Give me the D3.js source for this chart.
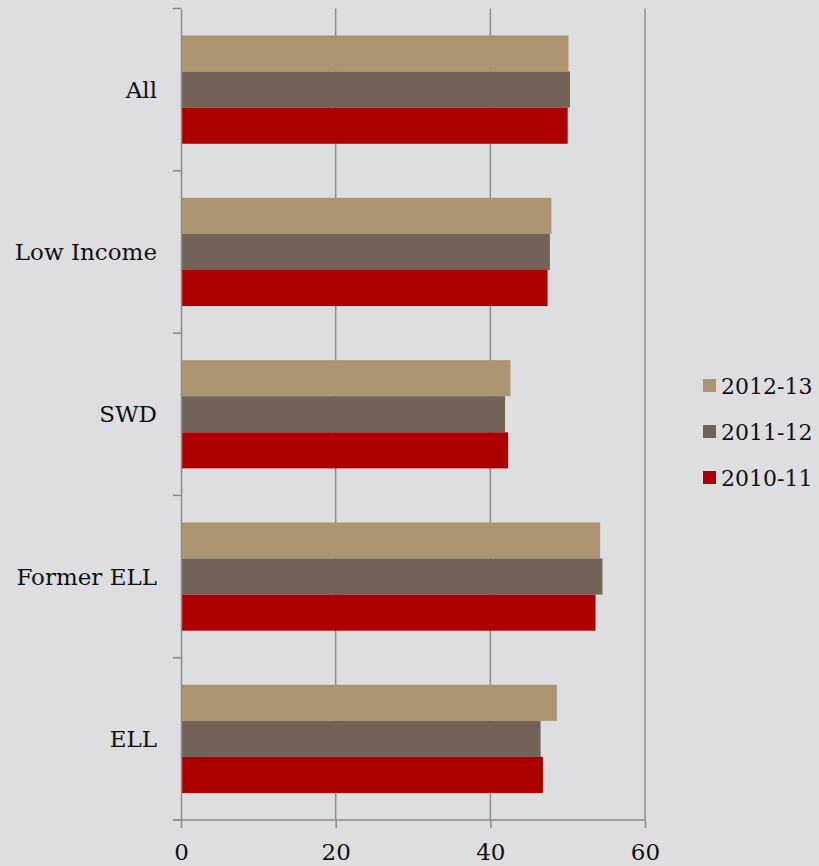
<!DOCTYPE html>
<html>
<head>
<meta charset="utf-8">
<script src="https://cdn.jsdelivr.net/npm/d3@7"></script>
<style>
  html, body { margin: 0; padding: 0; background: #dedee0; }
  svg { display: block; }
  text { font-family: "DejaVu Serif", "Liberation Serif", serif; fill: #111; }
</style>
</head>
<body>
<svg id="chart" width="819" height="866"></svg>
<script>
// Groups shown top to bottom
const categories = ["All", "Low Income", "SWD", "Former ELL", "ELL"];
// School years, drawn top to bottom within each group
const years = ["2012-13", "2011-12", "2010-11"];
const values2012 = [50.1, 47.9, 42.6, 54.2, 48.6];
const values2011 = [50.3, 47.7, 41.9, 54.5, 46.5];
const values2010 = [50.0, 47.4, 42.3, 53.6, 46.8];
const xTicks = [0, 20, 40, 60];
const colors = ["#ac9470", "#726257", "#ad0000"];

const series = [values2012, values2011, values2010];

const svg = d3.select("#chart");
const margin = { left: 181, right: 174, top: 8.5, bottom: 46 };
const W = 819, H = 866;

const x = d3.scaleLinear().domain([0, 60]).range([margin.left, W - margin.right]);
const y = d3.scaleBand().domain(categories).range([margin.top, H - margin.bottom]).paddingInner(0.333).paddingOuter(0.1665);
const yInner = d3.scaleBand().domain(years).range([0, y.bandwidth()]);

// Vertical gridlines
svg.append("g")
  .selectAll("line")
  .data(xTicks.filter(t => t > 0))
  .join("line")
  .attr("x1", d => x(d)).attr("x2", d => x(d))
  .attr("y1", margin.top).attr("y2", H - margin.bottom)
  .attr("stroke", "#8c8c8c").attr("stroke-width", 1.5);

// Bars
const groups = svg.append("g")
  .selectAll("g")
  .data(categories)
  .join("g")
  .attr("transform", d => `translate(0,${y(d)})`);

groups.selectAll("rect")
  .data((c, i) => years.map((yr, j) => ({ yr, v: series[j][i], color: colors[j] })))
  .join("rect")
  .attr("x", x(0))
  .attr("y", d => yInner(d.yr))
  .attr("width", d => x(d.v) - x(0))
  .attr("height", yInner.bandwidth())
  .attr("fill", d => d.color);

// Category axis (left)
const yAxisScale = d3.scaleBand().domain(categories).range([margin.top, H - margin.bottom]);
const yAxis = svg.append("g")
  .attr("transform", `translate(${x(0)},0)`)
  .call(d3.axisLeft(yAxisScale).tickSize(0).tickFormat(""));
yAxis.select(".domain").attr("stroke", "#8c8c8c").attr("stroke-width", 1.5);
// boundary ticks between groups
const bounds = [margin.top].concat(categories.map(c => yAxisScale(c) + yAxisScale.bandwidth()));
svg.append("g").selectAll("line").data(bounds).join("line")
  .attr("x1", x(0) - 8).attr("x2", x(0))
  .attr("y1", d => d).attr("y2", d => d)
  .attr("stroke", "#8c8c8c").attr("stroke-width", 1.5);

svg.append("g").selectAll("text").data(categories).join("text")
  .attr("x", 157)
  .attr("y", d => y(d) + y.bandwidth() / 2)
  .attr("dy", "0.35em")
  .attr("text-anchor", "end")
  .style("font-size", "23px")
  .text(d => d);

// Value axis (bottom)
const xAxis = svg.append("g")
  .attr("transform", `translate(0,${H - margin.bottom})`)
  .call(d3.axisBottom(x).tickValues(xTicks).tickSize(8).tickPadding(16).tickFormat(d3.format("d")));
xAxis.select(".domain").attr("stroke", "#8c8c8c").attr("stroke-width", 1.5).attr("d", `M${x(0) - 8},0H${x(60)}`);
xAxis.selectAll(".tick line").attr("stroke", "#8c8c8c").attr("stroke-width", 1.5);
xAxis.selectAll(".tick text")
  .style("font-family", '"DejaVu Serif", serif')
  .style("font-size", "23px").attr("fill", "#111");

// Legend
const legend = svg.append("g");
const lg = legend.selectAll("g").data(years).join("g")
  .attr("transform", (d, i) => `translate(703,${386 + i * 46})`);
lg.append("rect").attr("x", 0).attr("y", -7).attr("width", 13).attr("height", 13)
  .attr("fill", (d, i) => colors[i]);
lg.append("text").attr("x", 18).attr("y", 0).attr("dy", "0.35em")
  .style("font-size", "22px").text(d => d);
</script>
</body>
</html>
